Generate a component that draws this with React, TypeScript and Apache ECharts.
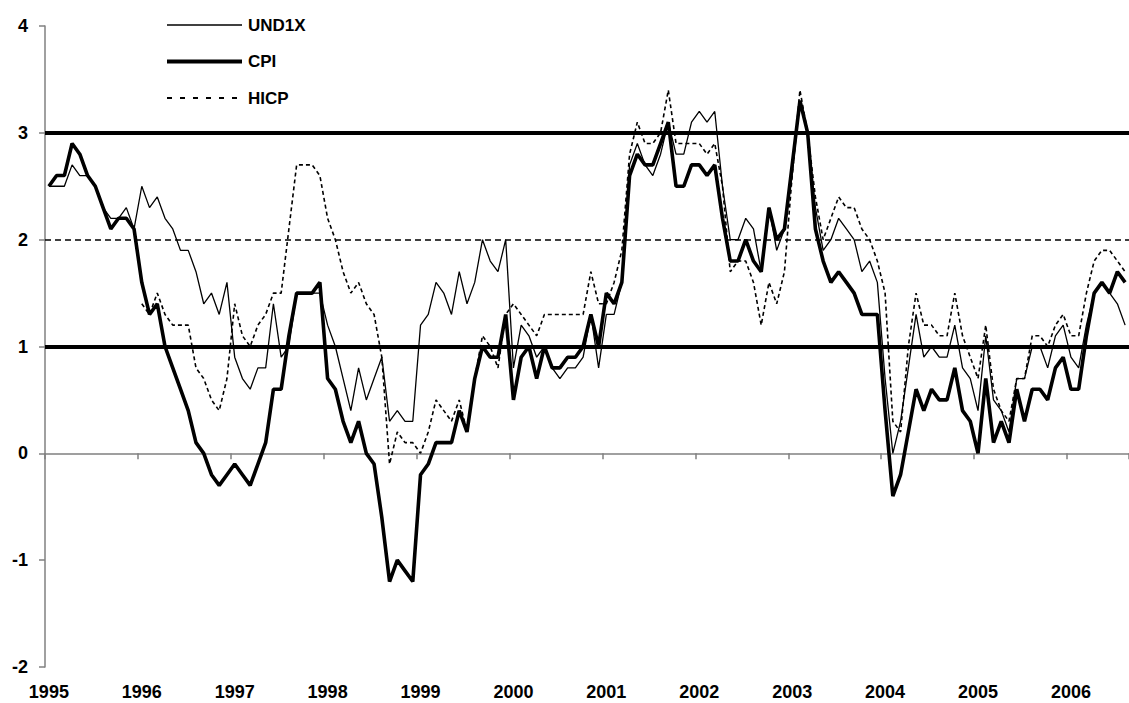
import React, { useEffect, useRef } from "react";
import * as echarts from "echarts";

const years = ["1995", "1996", "1997", "1998", "1999", "2000", "2001", "2002", "2003", "2004", "2005", "2006"];
const monthNames = ["01", "02", "03", "04", "05", "06", "07", "08", "09", "10", "11", "12"];
const monthCount = 140; // Jan 1995 .. Aug 2006

const categories: string[] = [];
for (const y of years) for (const m of monthNames) categories.push(`${y}-${m}`);
const cats = categories.slice(0, monthCount);

const und1x = [
  2.5, 2.5, 2.5, 2.7, 2.6, 2.6, 2.5, 2.3, 2.2, 2.2, 2.3, 2.1,
  2.5, 2.3, 2.4, 2.2, 2.1, 1.9, 1.9, 1.7, 1.4, 1.5, 1.3, 1.6,
  0.9, 0.7, 0.6, 0.8, 0.8, 1.4, 0.9, 1.0, 1.5, 1.5, 1.5, 1.5,
  1.2, 1.0, 0.7, 0.4, 0.8, 0.5, 0.7, 0.9, 0.3, 0.4, 0.3, 0.3,
  1.2, 1.3, 1.6, 1.5, 1.3, 1.7, 1.4, 1.6, 2.0, 1.8, 1.7, 2.0,
  0.8, 1.2, 1.1, 0.9, 1.0, 0.8, 0.7, 0.8, 0.8, 0.9, 1.3, 0.8,
  1.3, 1.3, 1.6, 2.7, 2.9, 2.7, 2.6, 2.8, 3.1, 2.8, 2.8, 3.1,
  3.2, 3.1, 3.2, 2.5, 2.0, 2.0, 2.2, 2.1, 1.7, 2.3, 1.9, 2.1,
  2.6, 3.3, 3.0, 2.3, 1.9, 2.0, 2.2, 2.1, 2.0, 1.7, 1.8, 1.6,
  0.7, 0.0, 0.3, 0.8, 1.3, 0.9, 1.0, 0.9, 0.9, 1.2, 0.8, 0.7,
  0.4, 1.1, 0.5, 0.4, 0.2, 0.7, 0.7, 1.0, 1.0, 0.8, 1.1, 1.2,
  0.9, 0.8, 1.2, 1.5, 1.6, 1.5, 1.4, 1.2,
];

const cpi = [
  2.5, 2.6, 2.6, 2.9, 2.8, 2.6, 2.5, 2.3, 2.1, 2.2, 2.2, 2.1,
  1.6, 1.3, 1.4, 1.0, 0.8, 0.6, 0.4, 0.1, 0.0, -0.2, -0.3, -0.2,
  -0.1, -0.2, -0.3, -0.1, 0.1, 0.6, 0.6, 1.1, 1.5, 1.5, 1.5, 1.6,
  0.7, 0.6, 0.3, 0.1, 0.3, 0.0, -0.1, -0.6, -1.2, -1.0, -1.1, -1.2,
  -0.2, -0.1, 0.1, 0.1, 0.1, 0.4, 0.2, 0.7, 1.0, 0.9, 0.9, 1.3,
  0.5, 0.9, 1.0, 0.7, 1.0, 0.8, 0.8, 0.9, 0.9, 1.0, 1.3, 1.0,
  1.5, 1.4, 1.6, 2.6, 2.8, 2.7, 2.7, 2.9, 3.1, 2.5, 2.5, 2.7,
  2.7, 2.6, 2.7, 2.2, 1.8, 1.8, 2.0, 1.8, 1.7, 2.3, 2.0, 2.1,
  2.7, 3.3, 3.0, 2.1, 1.8, 1.6, 1.7, 1.6, 1.5, 1.3, 1.3, 1.3,
  0.4, -0.4, -0.2, 0.2, 0.6, 0.4, 0.6, 0.5, 0.5, 0.8, 0.4, 0.3,
  0.0, 0.7, 0.1, 0.3, 0.1, 0.6, 0.3, 0.6, 0.6, 0.5, 0.8, 0.9,
  0.6, 0.6, 1.1, 1.5, 1.6, 1.5, 1.7, 1.6,
];

const hicp: (number | null)[] = [
  null, null, null, null, null, null, null, null, null, null, null, null,
  1.4, 1.3, 1.5, 1.3, 1.2, 1.2, 1.2, 0.8, 0.7, 0.5, 0.4, 0.7,
  1.4, 1.1, 1.0, 1.2, 1.3, 1.5, 1.5, 2.1, 2.7, 2.7, 2.7, 2.6,
  2.2, 2.0, 1.7, 1.5, 1.6, 1.4, 1.3, 0.9, -0.1, 0.2, 0.1, 0.1,
  0.0, 0.2, 0.5, 0.4, 0.3, 0.5, 0.2, 0.7, 1.1, 1.0, 0.8, 1.3,
  1.4, 1.3, 1.2, 1.1, 1.3, 1.3, 1.3, 1.3, 1.3, 1.3, 1.7, 1.4,
  1.4, 1.6, 1.9, 2.8, 3.1, 2.9, 2.9, 3.0, 3.4, 2.9, 2.9, 2.9,
  2.9, 2.8, 2.9, 2.5, 1.7, 1.8, 1.8, 1.6, 1.2, 1.6, 1.4, 1.7,
  2.6, 3.4, 3.0, 2.4, 2.0, 2.2, 2.4, 2.3, 2.3, 2.1, 2.0, 1.8,
  1.5, 0.3, 0.2, 1.0, 1.5, 1.2, 1.2, 1.1, 1.1, 1.5, 1.1, 0.9,
  0.7, 1.2, 0.6, 0.4, 0.3, 0.7, 0.7, 1.1, 1.1, 1.0, 1.2, 1.3,
  1.1, 1.1, 1.5, 1.8, 1.9, 1.9, 1.8, 1.7,
];

const yTicks = { min: -2, max: 4, interval: 1 };
const targetBand = [1, 3];
const targetMid = 2;

const FONT = '"Liberation Sans", Arial, sans-serif';

const seriesStyles = [
  { name: "UND1X", width: 1.3, dash: "solid" as any, legendDash: "solid" as any, legendWidth: 1.3, z: 5 },
  { name: "CPI", width: 3.6, dash: "solid" as any, legendDash: "solid" as any, legendWidth: 4, z: 4 },
  { name: "HICP", width: 1.6, dash: [4, 3] as any, legendDash: [5, 8] as any, legendWidth: 2, z: 3 },
];
const seriesData: Record<string, (number | null)[]> = { UND1X: und1x, CPI: cpi, HICP: hicp };

export default function App() {
  const ref = useRef<HTMLDivElement>(null);
  useEffect(() => {
    if (!ref.current) return;
    const chart = echarts.init(ref.current, undefined, { renderer: "svg" });

    const legendLeft = 167;
    const legendTop = 25;
    const legendStep = 36.5;
    const legendGraphics: any[] = [];
    seriesStyles.forEach((s, i) => {
      const y = legendTop + i * legendStep;
      legendGraphics.push({
        type: "line",
        silent: true,
        shape: { x1: legendLeft, y1: y, x2: legendLeft + 75, y2: y },
        style: { stroke: "#000", lineWidth: s.legendWidth, lineDash: s.legendDash === "solid" ? null : s.legendDash },
      });
      legendGraphics.push({
        type: "text",
        silent: true,
        x: legendLeft + 81,
        y,
        style: {
          text: s.name,
          fontFamily: FONT,
          fontWeight: "bold",
          fontSize: 17,
          fill: "#000",
          verticalAlign: "middle",
          align: "left",
        },
      });
    });

    chart.setOption({
      animation: false,
      backgroundColor: "#ffffff",
      grid: { left: 45, right: -7, top: 26, bottom: 36, containLabel: false },
      graphic: legendGraphics,
      xAxis: {
        type: "category",
        data: cats,
        boundaryGap: true,
        axisLine: { show: true, lineStyle: { color: "#808080", width: 1.5 } },
        axisTick: { show: true, interval: 11, length: 6, lineStyle: { color: "#808080", width: 1.5 } },
        axisLabel: {
          interval: 11,
          formatter: (v: string) => v.slice(0, 4),
          fontFamily: FONT,
          fontWeight: "bold",
          fontSize: 18,
          color: "#000",
          margin: 16,
        },
        splitLine: { show: false },
      },
      yAxis: {
        type: "value",
        min: yTicks.min,
        max: yTicks.max,
        interval: yTicks.interval,
        axisLine: { show: true, lineStyle: { color: "#808080", width: 1.5 } },
        axisTick: { show: true, length: 6, lineStyle: { color: "#808080", width: 1.5 } },
        axisLabel: {
          fontFamily: FONT,
          fontWeight: "bold",
          fontSize: 18,
          color: "#000",
          margin: 17,
        },
        splitLine: { show: false },
      },
      series: [...seriesStyles].reverse().map((s, idx) => ({
        name: s.name,
        type: "line",
        data: seriesData[s.name],
        symbol: "none",
        connectNulls: false,
        lineStyle: { color: "#000", width: s.width, type: s.dash },
        itemStyle: { color: "#000" },
        z: s.z,
        markLine:
          idx === 0
            ? {
                silent: true,
                symbol: "none",
                label: { show: false },
                data: [
                  { yAxis: targetBand[0], lineStyle: { color: "#000", width: 4, type: "solid" } },
                  { yAxis: targetBand[1], lineStyle: { color: "#000", width: 4, type: "solid" } },
                  { yAxis: targetMid, lineStyle: { color: "#000", width: 1.5, type: [6, 4] } },
                ],
              }
            : undefined,
      })),
    });
    return () => chart.dispose();
  }, []);
  return (
    <div
      ref={ref}
      style={{ position: "fixed", left: 0, top: 0, width: 1129, height: 703, background: "#fff" }}
    />
  );
}
